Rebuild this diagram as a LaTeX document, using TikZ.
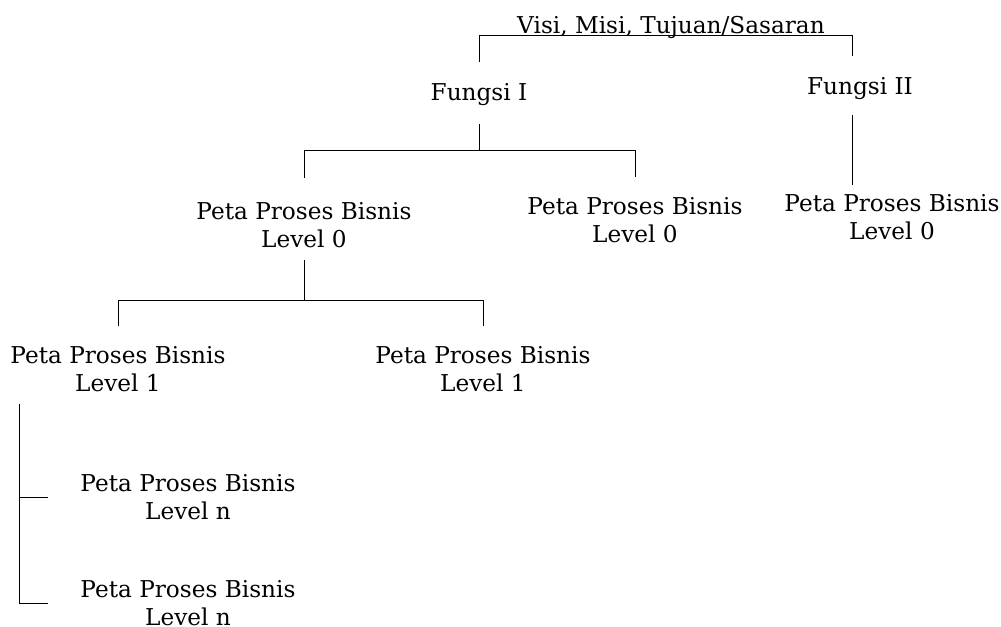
\documentclass[tikz,border=0pt]{standalone}
\usepackage{fontspec}
\setmainfont{DejaVu Serif}
\begin{document}
\begin{tikzpicture}[x=0.75pt,y=0.75pt,yscale=-1,xscale=1]
\tikzset{lbl/.style={align=center, inner sep=0pt, font=\fontsize{17.4}{21}\selectfont},
  tree/.style={line width=0.6pt}}
\useasboundingbox (0,0) rectangle (1001,626);

% Text Node
\node[lbl, anchor=base] (visi) at (671,33) {Visi, Misi, Tujuan/Sasaran};
% Text Node
\node[lbl] (fungsi1) at (479,95) {Fungsi I};
% Text Node
\node[lbl] (fungsi2) at (860,89) {Fungsi II};
% Text Node
\node[lbl] (p0a) at (304,225) {Peta Proses Bisnis\\Level 0};
% Text Node
\node[lbl] (p0b) at (635,220) {Peta Proses Bisnis\\Level 0};
% Text Node
\node[lbl] (p0c) at (892,217) {Peta Proses Bisnis\\Level 0};
% Text Node
\node[lbl] (p1a) at (118,369) {Peta Proses Bisnis\\Level 1};
% Text Node
\node[lbl] (p1b) at (483,369) {Peta Proses Bisnis\\Level 1};
% Text Node
\node[lbl] (pna) at (188,497) {Peta Proses Bisnis\\Level n};
% Text Node
\node[lbl] (pnb) at (188,603) {Peta Proses Bisnis\\Level n};

\coordinate (bar0) at (0,35);
\coordinate (bar1) at (0,150);
\coordinate (bar2) at (0,300);
\coordinate (axis1) at (852,0);
\coordinate (axis2) at (852,0);
\coordinate (rail) at (19,0);

%Lines: visi -> fungsi
\draw[tree, shorten <=16pt, shorten >=16pt] (fungsi1.north) |- (bar0 -| axis1) -- (fungsi2.north -| axis1);
%Lines: fungsi I -> level 0
\draw[tree, shorten <=13pt] (fungsi1.south) -- (fungsi1.south |- bar1);
\draw[tree, shorten <=18pt, shorten >=15pt] (p0a.north) |- (bar1 -| p0b.north) -- (p0b.north);
%Lines: fungsi II -> level 0
\draw[tree, shorten <=11pt, shorten >=7pt] (fungsi2.south -| axis2) -- (p0c.north -| axis2);
%Lines: level 0 -> level 1
\draw[tree, shorten <=9pt] (p0a.south) -- (p0a.south |- bar2);
\draw[tree, shorten <=15pt, shorten >=15pt] (p1a.north) |- (bar2 -| p1b.north) -- (p1b.north);
%Lines: level 1 -> level n
\draw[tree, shorten <=9pt, shorten >=24pt] (p1a.south -| rail) |- (pnb.west);
\draw[tree, shorten >=24pt] (rail |- pna.west) -- (pna.west);

\end{tikzpicture}
\end{document}
